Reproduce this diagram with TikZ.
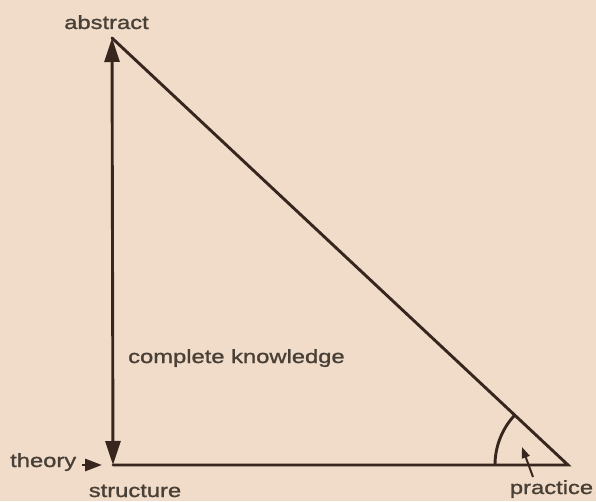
\documentclass[tikz,border=0pt]{standalone}
\usepackage{fontspec}
\newfontfamily\labfont[FakeStretch=1.25,FakeBold=1.2]{Liberation Sans}
\usetikzlibrary{arrows.meta}
\definecolor{paper}{RGB}{241,219,201}
\definecolor{ink}{RGB}{55,38,30}
\definecolor{txt}{RGB}{72,64,54}
\tikzset{
  x=1pt, y=1pt,
  edge/.style={draw=ink, line width=2.9pt},
  lab/.style={inner sep=0pt, text=txt, font=\labfont\fontsize{19}{22}\selectfont},
}
\begin{document}
\begin{tikzpicture}
\fill[paper] (0,0) rectangle (596,501);
\useasboundingbox (0,0) rectangle (596,501);
% vertices
\coordinate (A) at (112,463);
\coordinate (B) at (113,36);
\coordinate (C) at (568,36);
\coordinate (T) at (82,36);
\coordinate (P0) at (533,24);
\coordinate (P1) at (522,54);
% triangle sides
\draw[edge, line cap=round] (B) -- (C) -- (A);
\draw[edge, {Triangle[length=24pt,width=15pt]}-{Triangle[length=24pt,width=15pt]}] (B) -- (A);
% theory arrow
\draw[edge, -{Triangle[length=17pt,width=12pt]}] (T) -- ++(20,0);
% angle arc
\draw[ink, line width=2.9pt] (495,36) arc[start angle=180, end angle=136.9, radius=73];
% practice arrow
\draw[ink, line width=2pt, -{Triangle[length=11pt,width=8pt]}] (P0) -- (P1);
% labels
\node[lab, anchor=base] (abs) at (106.5,472) {abstract};
\node[lab, anchor=base west] (ck) at (128,138) {complete knowledge};
\node[lab, anchor=base west] (th) at (10,34) {theory};
\node[lab, anchor=base] (st) at (135,4) {structure};
\node[lab, anchor=base] (pr) at (551.5,7) {practice};
\end{tikzpicture}
\end{document}
